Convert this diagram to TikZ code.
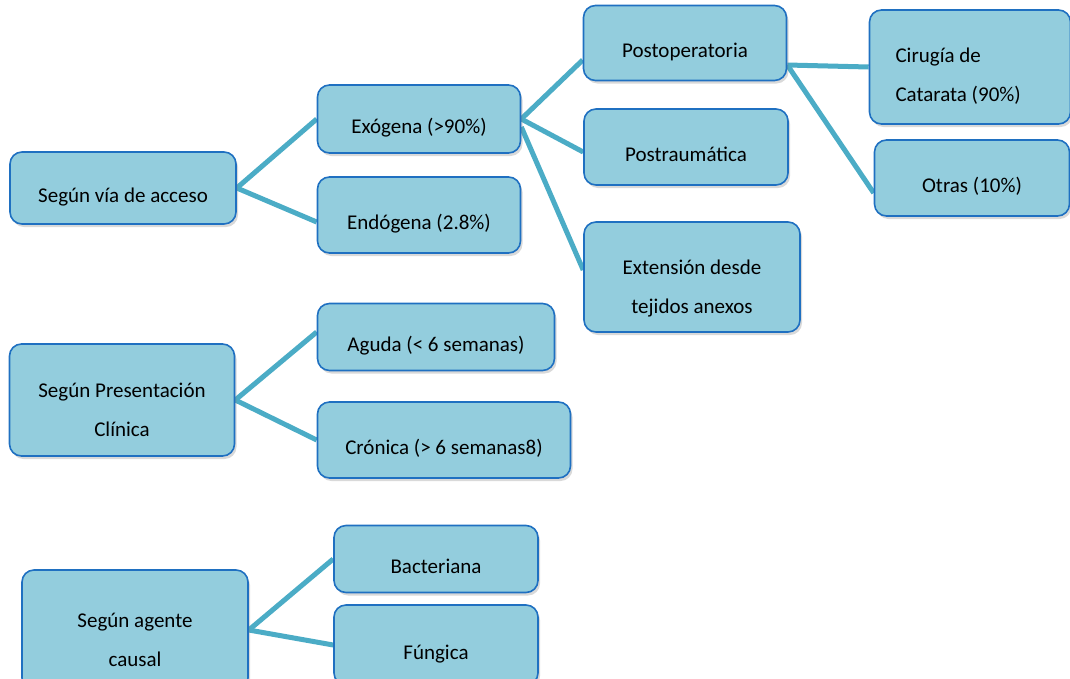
\documentclass[tikz,border=0pt]{standalone}
\usepackage{fontspec}
\setmainfont{Carlito}
\usetikzlibrary{shadows,backgrounds}
\definecolor{boxfill}{HTML}{93CDDD}
\definecolor{boxline}{HTML}{1F70C1}
\definecolor{linkcol}{HTML}{4BACC6}
\tikzset{
  box/.style={draw=boxline, fill=boxfill, line width=1.6pt, rounded corners=12pt,
    align=center, inner sep=0pt, font=\fontsize{21}{39}\selectfont,
    text height=33pt, text depth=5pt,
    drop shadow={shadow xshift=2pt, shadow yshift=-3pt, opacity=0.3}},
  twoline/.style={text height=78pt, text depth=5pt},
  link/.style={draw=linkcol, line width=5pt}
}

\begin{document}
\begin{tikzpicture}[x=1pt,y=-1pt]
\useasboundingbox (0,0) rectangle (1070,678);
% first group: route of entry
\node[box, minimum width=226, minimum height=72] (via) at (123,188) {Según vía de acceso};
\node[box, minimum width=203, minimum height=68] (exo) at (419,119) {Exógena (>90\%)};
\node[box, minimum width=203, minimum height=76] (endo) at (419,215) {Endógena (2.8\%)};
\node[box, minimum width=203, minimum height=75] (postop) at (685,43) {Postoperatoria};
\node[box, minimum width=204, minimum height=76] (postra) at (686,147) {Postraumática};
\node[box, twoline, minimum width=216, minimum height=110] (ext) at (692,277) {Extensión desde\\tejidos anexos};
\node[box, minimum width=201, minimum height=114, text width=149, align=flush left,
  text height=15pt, text depth=25pt] (cat) at (970,67) {Cirugía de\\Catarata (90\%)};
\node[box, minimum width=195, minimum height=76] (otras) at (972,178) {Otras (10\%)};
% second group: clinical presentation
\node[box, twoline, minimum width=225, minimum height=112] (pres) at (122,400) {Según Presentación\\Clínica};
\node[box, minimum width=237, minimum height=67] (aguda) at (436,337) {Aguda (< 6 semanas)};
\node[box, minimum width=253, minimum height=76] (cronica) at (444,440) {Crónica (> 6 semanas8)};
% third group: causal agent
\node[box, twoline, minimum width=226, minimum height=120] (agente) at (135,630) {Según agente\\causal};
\node[box, minimum width=204, minimum height=67] (bact) at (436,559) {Bacteriana};
\node[box, minimum width=204, minimum height=80] (fung) at (436,645) {Fúngica};

\begin{scope}[on background layer]
\draw[link] (via.east) -- (exo.west);
\draw[link] (via.east) -- ([yshift=-7pt]endo.west);
\draw[link] (exo.east) -- ([yshift=-17pt]postop.west);
\draw[link] (exo.east) -- ([yshift=-5pt]postra.west);
\draw[link] ([yshift=-8pt]exo.east) -- ([yshift=7pt]ext.west);
\draw[link] ([yshift=-22pt]postop.east) -- (cat.west);
\draw[link] ([yshift=-22pt]postop.east) -- ([yshift=-15pt]otras.west);
\draw[link] (pres.east) -- ([yshift=5pt]aguda.west);
\draw[link] (pres.east) -- (cronica.west);
\draw[link] (agente.east) -- (bact.west);
\draw[link] (agente.east) -- (fung.west);
\end{scope}
\end{tikzpicture}
\end{document}
